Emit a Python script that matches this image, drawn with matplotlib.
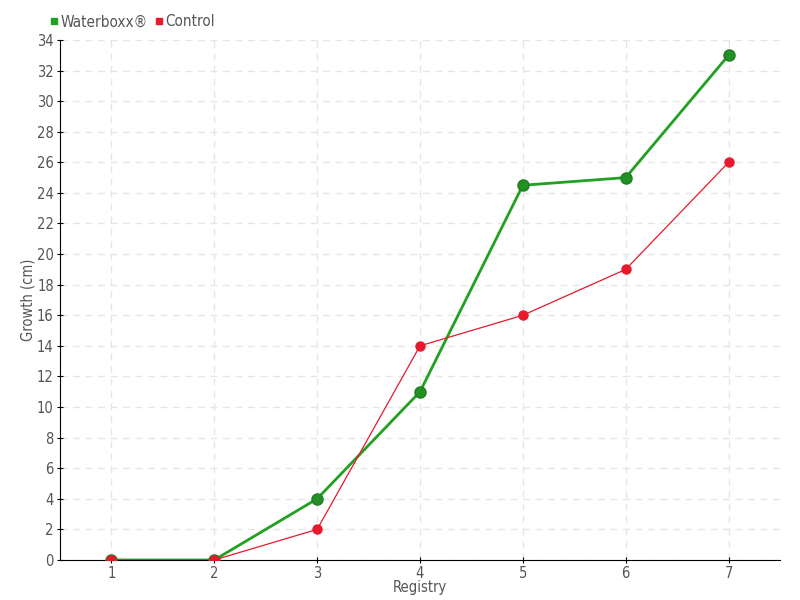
import matplotlib.pyplot as plt
from matplotlib.lines import Line2D

registry = [1, 2, 3, 4, 5, 6, 7]
waterboxx = [0, 0, 4, 11, 24.5, 25, 33]
control = [0, 0, 2, 14, 16, 19, 26]
y_ticks = list(range(0, 35, 2))

green = "#22a022"
red = "#e8192c"
text_color = "#555555"

plt.rcParams["font.family"] = ["DejaVu Sans"]
plt.rcParams["font.stretch"] = "condensed"

fig = plt.figure(figsize=(8, 6), dpi=100)
ax = fig.add_axes([0.075, 0.0667, 0.9, 0.8667])

ax.plot(registry, waterboxx, color=green, lw=2, marker="o", ms=8,
        mfc="#229022", mec="#1f7f1f", mew=1, zorder=3)
ax.plot(registry, control, color=red, lw=0.9, marker="o", ms=6.5,
        mfc=red, mec=red, zorder=4)

ax.set_xlim(0.5, 7.5)
ax.set_ylim(0, 34)
ax.set_xticks(registry)
ax.set_yticks(y_ticks)
ax.grid(True, color="#e6e6e6", ls=(0, (5, 4)), lw=1)
ax.set_axisbelow(True)
for s in ["top", "right"]:
    ax.spines[s].set_visible(False)
ax.tick_params(direction="inout", length=5, colors="black", labelcolor=text_color,
               labelsize=10.5, pad=2)
ax.set_xlabel("Registry", color=text_color, fontsize=10.5, labelpad=-1)
ax.set_ylabel("Growth (cm)", color=text_color, fontsize=10.5, labelpad=1)

handles = [
    Line2D([], [], ls="none", marker="s", ms=5, color=green),
    Line2D([], [], ls="none", marker="s", ms=5, color=red),
]
fig.legend(handles, ["Waterboxx®", "Control"], loc="upper left",
           bbox_to_anchor=(0.044, 0.999), ncol=2, frameon=False,
           handletextpad=0.05, columnspacing=0.4, fontsize=11,
           labelcolor=text_color, handlelength=0.7)

fig.savefig("out.png", dpi=100)
